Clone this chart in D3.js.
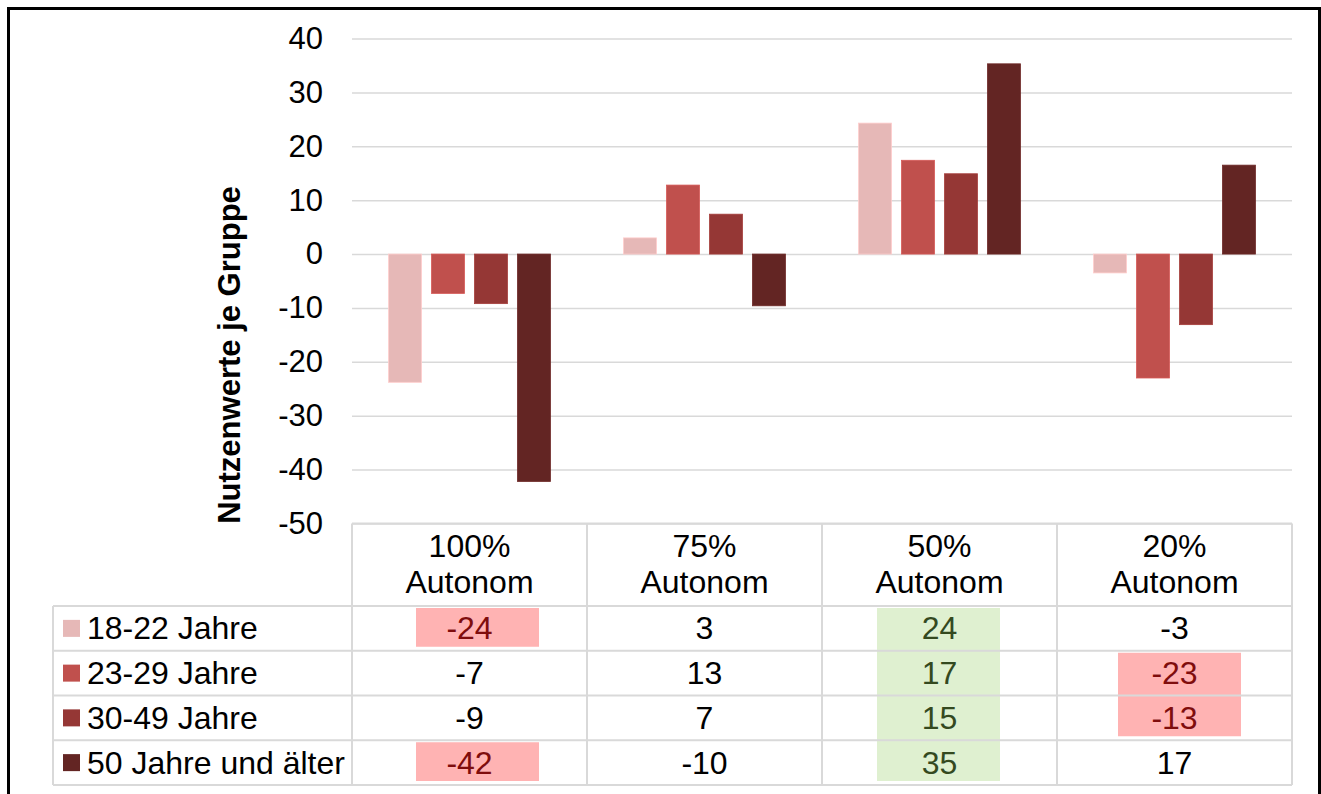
<!DOCTYPE html>
<html>
<head>
<meta charset="utf-8">
<script src="https://cdn.jsdelivr.net/npm/d3@7"></script>
<style>
  body { margin: 0; background: #fff; }
  svg { display: block; font-family: Arial, "Liberation Sans", sans-serif; }
</style>
</head>
<body>
<div id="chart"></div>
<script>
// data
const categories = ['100% Autonom', '75% Autonom', '50% Autonom', '20% Autonom'];
const seriesNames = ['18-22 Jahre', '23-29 Jahre', '30-49 Jahre', '50 Jahre und älter'];
const s1822 = [-23.8, 3.0, 24.3, -3.5];
const s2329 = [-7.3, 12.8, 17.4, -23.0];
const s3049 = [-9.2, 7.4, 14.9, -13.1];
const s50 = [-42.2, -9.6, 35.3, 16.5];
const yTicks = [40, 30, 20, 10, 0, -10, -20, -30, -40, -50];
// table cell highlight: r = red, g = green (per series row, per category)
const highlight = [
  ['r', '', 'g', ''],
  ['', '', 'g', 'r'],
  ['', '', 'g', 'r'],
  ['r', '', 'g', '']
];

const seriesValues = [s1822, s2329, s3049, s50];
const colors = ['#e6b8b7', '#c0504d', '#953735', '#632523'];

const width = 1321, height = 794;
const plotLeft = 352, plotRight = 1292, plotTop = 38.5, plotBottom = 523.5;
const headerBottom = 606, rowH = 44.75, tableLeft = 53;
const fontSize = 32;

const svg = d3.select('#chart').append('svg')
  .attr('width', width)
  .attr('height', height);

const y = d3.scaleLinear().domain([-50, 40]).range([plotBottom, plotTop]);
const x0 = d3.scaleBand().domain(categories).range([plotLeft, plotRight]);
const x1 = d3.scaleBand()
  .domain(d3.range(seriesNames.length))
  .range([0, x0.bandwidth()])
  .paddingInner(0.233)
  .paddingOuter(0.85);

// gridlines + tick labels
const yAxis = svg.append('g')
  .attr('transform', `translate(${plotLeft},0)`)
  .call(d3.axisLeft(y).tickValues(yTicks).tickFormat(d => String(d))
    .tickSize(-(plotRight - plotLeft)).tickPadding(29));
yAxis.select('.domain').remove();
yAxis.selectAll('.tick line').attr('stroke', '#d9d9d9').attr('stroke-width', 1.5);
yAxis.selectAll('.tick text')
  .attr('fill', '#000')
  .style('font-size', '31px')
  .style('font-family', 'Arial, "Liberation Sans", sans-serif');

svg.append('text')
  .attr('transform', `translate(240,355) rotate(-90)`)
  .attr('text-anchor', 'middle')
  .style('font-size', '31px')
  .style('font-weight', 'bold')
  .text('Nutzenwerte je Gruppe');

// bars
const groups = svg.append('g').selectAll('g')
  .data(categories)
  .join('g')
  .attr('transform', d => `translate(${x0(d)},0)`);

groups.selectAll('rect')
  .data((d, ci) => seriesValues.map((vals, si) => ({ si, v: vals[ci] })))
  .join('rect')
  .attr('x', d => x1(d.si))
  .attr('width', x1.bandwidth())
  .attr('y', d => y(Math.max(0, d.v)))
  .attr('height', d => Math.abs(y(d.v) - y(0)))
  .attr('fill', d => colors[d.si])
  .attr('stroke', d => d3.color(colors[d.si]).brighter(0.3))
  .attr('stroke-width', 0.8);

// table
const table = svg.append('g');
const rowTop = i => headerBottom + i * rowH;
const hlFill = { r: '#ffb3b3', g: '#dff0d0' };
const hlText = { r: '#7f0d0d', g: '#34491f' };
const hlShift = [8, 0, -1, 5];

// highlight fills, merging consecutive rows
categories.forEach((c, ci) => {
  let si = 0;
  while (si < seriesNames.length) {
    const k = highlight[si][ci];
    if (!k) { si++; continue; }
    let end = si;
    while (end + 1 < seriesNames.length && highlight[end + 1][ci] === k) end++;
    table.append('rect')
      .attr('x', x0(c) + x0.bandwidth() / 2 + hlShift[ci] - 61.5)
      .attr('width', 123)
      .attr('y', rowTop(si) + 2)
      .attr('height', rowTop(end + 1) - rowTop(si) - 6)
      .attr('fill', hlFill[k]);
    si = end + 1;
  }
});

const gridC = '#d9d9d9';
// horizontal lines
table.append('line')
  .attr('x1', plotLeft).attr('x2', plotRight).attr('y1', plotBottom).attr('y2', plotBottom)
  .attr('stroke', gridC).attr('stroke-width', 2);
d3.range(seriesNames.length + 1).forEach(i => {
  table.append('line')
    .attr('x1', tableLeft).attr('x2', plotRight)
    .attr('y1', rowTop(i)).attr('y2', rowTop(i))
    .attr('stroke', gridC).attr('stroke-width', 2);
});
// vertical lines
table.append('line')
  .attr('x1', tableLeft).attr('x2', tableLeft)
  .attr('y1', headerBottom).attr('y2', rowTop(seriesNames.length))
  .attr('stroke', gridC).attr('stroke-width', 2);
d3.range(categories.length + 1).forEach(i => {
  const xx = plotLeft + i * x0.bandwidth();
  table.append('line')
    .attr('x1', xx).attr('x2', xx)
    .attr('y1', plotBottom).attr('y2', rowTop(seriesNames.length))
    .attr('stroke', gridC).attr('stroke-width', 2);
});

// header labels
categories.forEach(c => {
  const t = table.append('text')
    .attr('text-anchor', 'middle')
    .style('font-size', fontSize + 'px');
  c.split(' ').forEach((part, i) => {
    t.append('tspan')
      .attr('x', x0(c) + x0.bandwidth() / 2)
      .attr('y', 557 + i * 36)
      .text(part);
  });
});

// row labels + legend keys
seriesNames.forEach((s, si) => {
  const cy = rowTop(si) + rowH / 2;
  table.append('rect')
    .attr('x', 63).attr('y', cy - 8.5)
    .attr('width', 17).attr('height', 17)
    .attr('fill', colors[si]);
  table.append('text')
    .attr('x', 87).attr('y', cy + 11)
    .style('font-size', fontSize + 'px')
    .text(s);
  categories.forEach((c, ci) => {
    const k = highlight[si][ci];
    table.append('text')
      .attr('x', x0(c) + x0.bandwidth() / 2)
      .attr('y', cy + 11)
      .attr('text-anchor', 'middle')
      .attr('fill', k ? hlText[k] : '#000')
      .style('font-size', fontSize + 'px')
      .text(Math.round(seriesValues[si][ci]));
  });
});

// outer frame
svg.append('rect')
  .attr('x', 8.5).attr('y', 8.5)
  .attr('width', 1311).attr('height', 800)
  .attr('fill', 'none')
  .attr('stroke', '#000')
  .attr('stroke-width', 3);
</script>
</body>
</html>
